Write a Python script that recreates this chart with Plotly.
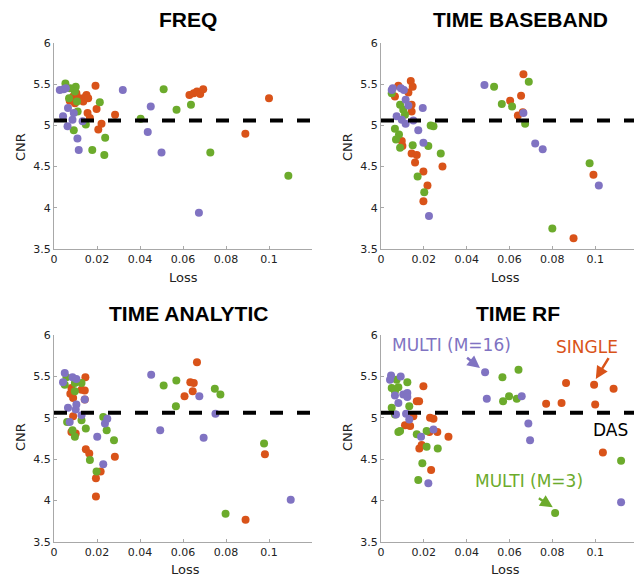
import plotly.graph_objects as go

# ---------------- DATA ----------------
panel_titles = ["FREQ", "TIME BASEBAND", "TIME ANALYTIC", "TIME RF"]
series_names = ["SINGLE", "MULTI (M=3)", "MULTI (M=16)"]
das_cnr = 5.06
x_tick_vals = [0, 0.02, 0.04, 0.06, 0.08, 0.1]
x_tick_text = ["0", "0.02", "0.04", "0.06", "0.08", "0.1"]
y_tick_vals = [3.5, 4, 4.5, 5, 5.5, 6]
y_tick_text = ["3.5", "4", "4.5", "5", "5.5", "6"]

# FREQ
freq_single_loss = [0.0073, 0.0089, 0.0097, 0.0104, 0.012, 0.0136, 0.0151, 0.0148, 0.0159, 0.0193, 0.0198,
                    0.0156, 0.0167, 0.0284, 0.0221, 0.0206, 0.063, 0.065, 0.0665, 0.068, 0.0694, 0.1, 0.089]
freq_single_cnr = [5.30, 5.35, 5.27, 5.39, 5.33, 5.29, 5.37, 5.35, 5.33, 5.48, 5.20,
                   5.15, 5.09, 5.13, 5.02, 4.95, 5.37, 5.39, 5.41, 5.38, 5.44, 5.33, 4.90]
freq_m3_loss = [0.0053, 0.0101, 0.0097, 0.007, 0.0107, 0.0213, 0.051, 0.057, 0.0637, 0.0403,
                0.0148, 0.0092, 0.0238, 0.0178, 0.0234, 0.0727, 0.109, 0.011, 0.0075]
freq_m3_cnr = [5.51, 5.47, 5.41, 5.33, 5.29, 5.28, 5.44, 5.19, 5.25, 5.08,
               5.01, 4.94, 4.85, 4.70, 4.64, 4.67, 4.39, 5.17, 5.45]
freq_m16_loss = [0.0027, 0.0045, 0.032, 0.045, 0.0436, 0.050, 0.0674, 0.0065, 0.0042, 0.0086,
                 0.0133, 0.0063, 0.0109, 0.0115, 0.0092, 0.0055]
freq_m16_cnr = [5.43, 5.44, 5.43, 5.23, 4.92, 4.67, 3.94, 5.21, 5.11, 5.07,
                5.05, 4.99, 4.84, 4.70, 5.15, 5.45]

# TIME BASEBAND
base_single_loss = [0.0665, 0.0654, 0.0603, 0.0639, 0.0662, 0.0899, 0.0992, 0.0139, 0.0148, 0.0128, 0.0081,
                    0.0065, 0.0143, 0.0143, 0.0097, 0.010, 0.0143, 0.0167, 0.0159, 0.0198, 0.0217, 0.0198, 0.0287]
base_single_cnr = [5.62, 5.36, 5.30, 5.12, 5.16, 3.63, 4.40, 5.54, 5.47, 5.40, 5.48,
                   5.35, 5.25, 5.17, 4.81, 4.75, 4.66, 4.64, 4.55, 4.44, 4.27, 4.08, 4.50]
base_m3_loss = [0.069, 0.0528, 0.0564, 0.0612, 0.0673, 0.080, 0.0974, 0.005, 0.0089, 0.0104, 0.0065,
                0.0084, 0.007, 0.0089, 0.0148, 0.0232, 0.0245, 0.0221, 0.0279, 0.0171, 0.0202, 0.0112]
base_m3_cnr = [5.53, 5.47, 5.26, 5.23, 5.02, 3.75, 4.54, 5.39, 5.25, 5.19, 4.96,
               4.89, 4.83, 4.73, 4.76, 5.00, 4.99, 4.75, 4.66, 4.38, 4.19, 5.13]
base_m16_loss = [0.0483, 0.0665, 0.072, 0.0755, 0.1017, 0.0224, 0.0055, 0.0093, 0.0107, 0.0115,
                 0.0128, 0.0195, 0.0073, 0.0097, 0.0115, 0.0151, 0.0174, 0.0198, 0.005]
base_m16_cnr = [5.49, 5.15, 4.78, 4.71, 4.27, 3.90, 5.45, 5.45, 5.43, 5.31,
                5.24, 5.21, 5.11, 5.07, 5.02, 5.06, 4.94, 4.79, 5.43]

# TIME ANALYTIC
anal_single_loss = [0.0665, 0.0634, 0.065, 0.0645, 0.0607, 0.0891, 0.0981, 0.0146, 0.0128, 0.0143, 0.0081,
                    0.0076, 0.0089, 0.0143, 0.0089, 0.0081, 0.0101, 0.0148, 0.0164, 0.0283, 0.0217, 0.0195, 0.0195]
anal_single_cnr = [5.67, 5.43, 5.42, 5.32, 5.26, 3.77, 4.56, 5.49, 5.34, 5.33, 5.36,
                   5.29, 5.24, 5.22, 5.02, 4.83, 4.81, 4.62, 4.57, 4.53, 4.35, 4.27, 4.05]
anal_m3_loss = [0.051, 0.0569, 0.0567, 0.0748, 0.0774, 0.0977, 0.0798, 0.0058, 0.005, 0.0097, 0.0128,
                0.0097, 0.0128, 0.0148, 0.0061, 0.0086, 0.0097, 0.0229, 0.0245, 0.0279, 0.0167, 0.0198]
anal_m3_cnr = [5.39, 5.45, 5.14, 5.35, 5.28, 4.69, 3.84, 5.49, 5.40, 5.42, 5.42,
               5.32, 4.97, 4.87, 4.95, 4.85, 4.77, 5.01, 4.85, 4.73, 4.49, 4.35]
anal_m16_loss = [0.005, 0.0042, 0.0086, 0.0104, 0.0452, 0.0676, 0.0751, 0.0494, 0.0696, 0.1101,
                 0.0065, 0.0104, 0.0143, 0.0128, 0.0073, 0.0237, 0.0248, 0.0201, 0.0229, 0.0101]
anal_m16_cnr = [5.54, 5.43, 5.49, 5.47, 5.52, 5.26, 5.05, 4.85, 4.76, 4.01,
                5.12, 5.16, 5.22, 5.03, 4.95, 4.93, 4.99, 4.77, 4.44, 5.10]

# TIME RF
rf_single_loss = [0.0995, 0.1, 0.0864, 0.0843, 0.0771, 0.1086, 0.1036, 0.0198, 0.0167, 0.0178, 0.0151,
                  0.0112, 0.0136, 0.0229, 0.0245, 0.0226, 0.0263, 0.0315, 0.0179, 0.019, 0.0234]
rf_single_cnr = [5.40, 5.16, 5.42, 5.18, 5.17, 5.35, 4.58, 5.38, 5.20, 5.20, 5.02,
                 4.91, 4.90, 5.00, 4.99, 4.83, 4.83, 4.77, 4.63, 4.67, 4.37]
rf_m3_loss = [0.0813, 0.0567, 0.0642, 0.057, 0.0598, 0.0634, 0.1121, 0.0073, 0.0123, 0.005, 0.0065,
              0.0081, 0.005, 0.0132, 0.0065, 0.0081, 0.0089, 0.0167, 0.0213, 0.0213, 0.0265, 0.0193, 0.0174]
rf_m3_cnr = [3.85, 5.49, 5.58, 5.20, 5.26, 5.23, 4.48, 5.46, 5.43, 5.36, 5.32,
             5.37, 5.12, 5.14, 5.04, 4.83, 4.84, 4.80, 4.84, 4.65, 4.63, 4.45, 4.25]
rf_m16_loss = [0.0486, 0.0494, 0.0657, 0.0688, 0.0696, 0.1121, 0.0047, 0.0042, 0.0092, 0.0065,
               0.0081, 0.0104, 0.0123, 0.0123, 0.0117, 0.0132, 0.007, 0.0187, 0.0245, 0.0221]
rf_m16_cnr = [5.55, 5.23, 5.26, 4.93, 4.73, 3.98, 5.51, 5.46, 5.50, 5.27,
              5.18, 5.28, 5.30, 5.25, 5.05, 4.98, 5.04, 4.77, 4.86, 4.21]

panels = [
    [(freq_single_loss, freq_single_cnr), (freq_m3_loss, freq_m3_cnr), (freq_m16_loss, freq_m16_cnr)],
    [(base_single_loss, base_single_cnr), (base_m3_loss, base_m3_cnr), (base_m16_loss, base_m16_cnr)],
    [(anal_single_loss, anal_single_cnr), (anal_m3_loss, anal_m3_cnr), (anal_m16_loss, anal_m16_cnr)],
    [(rf_single_loss, rf_single_cnr), (rf_m3_loss, rf_m3_cnr), (rf_m16_loss, rf_m16_cnr)],
]

# ---------------- STYLE ----------------
# The page body adds an 8px offset, so the figure is made 8px smaller and positions are
# given in window pixels, converted with that offset.
OFF = 8
W, H = 642 - OFF, 578 - OFF
colors = ["#D95319", "#6CAB2C", "#8073C2"]
axis_color = "#A8A8A8"
tick_font = dict(family="DejaVu Sans", size=11, color="#222222")


def px_x(px):
    return (px - OFF) / W


def px_y(py):
    return 1 - (py - OFF) / H


# plot-area pixel boxes in window pixels (left, right, top, bottom)
boxes = [(54, 312, 43, 249), (381, 638, 43, 249), (54, 312, 335, 542), (381, 638, 335, 542)]

fig = go.Figure()
layout = dict(template="none", width=W, height=H, margin=dict(l=0, r=0, t=0, b=0, pad=0, autoexpand=False),
              paper_bgcolor="white", plot_bgcolor="white", showlegend=False)

for i, (box, series) in enumerate(zip(boxes, panels)):
    n = "" if i == 0 else str(i + 1)
    l, r, t, b = box
    layout["xaxis" + n] = dict(domain=[px_x(l), px_x(r)], anchor="y" + n, range=[0, 0.12], automargin=False,
                               tickvals=x_tick_vals, ticktext=x_tick_text, ticks="inside", ticklen=3,
                               tickcolor=axis_color, showline=True, linecolor=axis_color, linewidth=1,
                               showgrid=False, zeroline=False, tickfont=tick_font, fixedrange=True)
    layout["yaxis" + n] = dict(domain=[px_y(b), px_y(t)], anchor="x" + n, range=[3.5, 6], automargin=False,
                               tickvals=y_tick_vals, ticktext=y_tick_text, ticks="inside", ticklen=3,
                               tickcolor=axis_color, showline=True, linecolor=axis_color, linewidth=1,
                               showgrid=False, zeroline=False, tickfont=tick_font, fixedrange=True)
    for (xs, ys), c, name in zip(series, colors, series_names):
        fig.add_trace(go.Scatter(x=xs, y=ys, mode="markers", name=name, xaxis="x" + n, yaxis="y" + n,
                                 marker=dict(color=c, size=8, line=dict(width=0)), cliponaxis=False))
    # DAS reference line
    fig.add_trace(go.Scatter(x=[0, 0.12], y=[das_cnr, das_cnr], mode="lines", xaxis="x" + n, yaxis="y" + n,
                             line=dict(color="black", width=4, dash="13px,14px"), hoverinfo="skip"))

annotations = []
title_pos = [(188, 20), (520, 20), (188, 313), (518, 313)]
for txt, (px, py) in zip(panel_titles, title_pos):
    annotations.append(dict(text="<b>" + txt + "</b>", x=px_x(px), y=px_y(py), xref="paper", yref="paper",
                            showarrow=False, xanchor="center", yanchor="middle",
                            font=dict(family="Liberation Sans", size=21, color="black")))
for px, py in [(183, 277), (505, 277), (185, 569), (505, 569)]:
    annotations.append(dict(text="Loss", x=px_x(px), y=px_y(py), xref="paper", yref="paper",
                            showarrow=False, xanchor="center", yanchor="middle",
                            font=dict(family="DejaVu Sans", size=13, color="#222222")))
for px, py in [(20, 147), (347, 147), (20, 437), (347, 437)]:
    annotations.append(dict(text="CNR", x=px_x(px), y=px_y(py), xref="paper", yref="paper", textangle=-90,
                            showarrow=False, xanchor="center", yanchor="middle",
                            font=dict(family="DejaVu Sans", size=13, color="#222222")))

# TIME RF callouts
lab_font = "DejaVu Sans"
annotations += [
    dict(text="MULTI (M=16)", x=0.033, y=5.88, xref="x4", yref="y4", showarrow=False,
         font=dict(family=lab_font, size=17, color=colors[2])),
    dict(text="", x=0.0462, y=5.60, ax=0.0395, ay=5.74, xref="x4", yref="y4", axref="x4", ayref="y4",
         showarrow=True, arrowhead=2, arrowsize=1, arrowwidth=2.5, arrowcolor=colors[2]),
    dict(text="SINGLE", x=0.096, y=5.86, xref="x4", yref="y4", showarrow=False,
         font=dict(family=lab_font, size=17, color=colors[0])),
    dict(text="", x=0.1003, y=5.47, ax=0.1067, ay=5.74, xref="x4", yref="y4", axref="x4", ayref="y4",
         showarrow=True, arrowhead=2, arrowsize=1, arrowwidth=2.5, arrowcolor=colors[0]),
    dict(text="DAS", x=0.107, y=4.85, xref="x4", yref="y4", showarrow=False,
         font=dict(family=lab_font, size=17, color="black")),
    dict(text="MULTI (M=3)", x=0.069, y=4.24, xref="x4", yref="y4", showarrow=False,
         font=dict(family=lab_font, size=17, color=colors[1])),
    dict(text="", x=0.0802, y=3.92, ax=0.0730, ay=4.04, xref="x4", yref="y4", axref="x4", ayref="y4",
         showarrow=True, arrowhead=2, arrowsize=1, arrowwidth=2.5, arrowcolor=colors[1]),
]
layout["annotations"] = annotations
fig.update_layout(**layout)
fig.write_html("out.html")
